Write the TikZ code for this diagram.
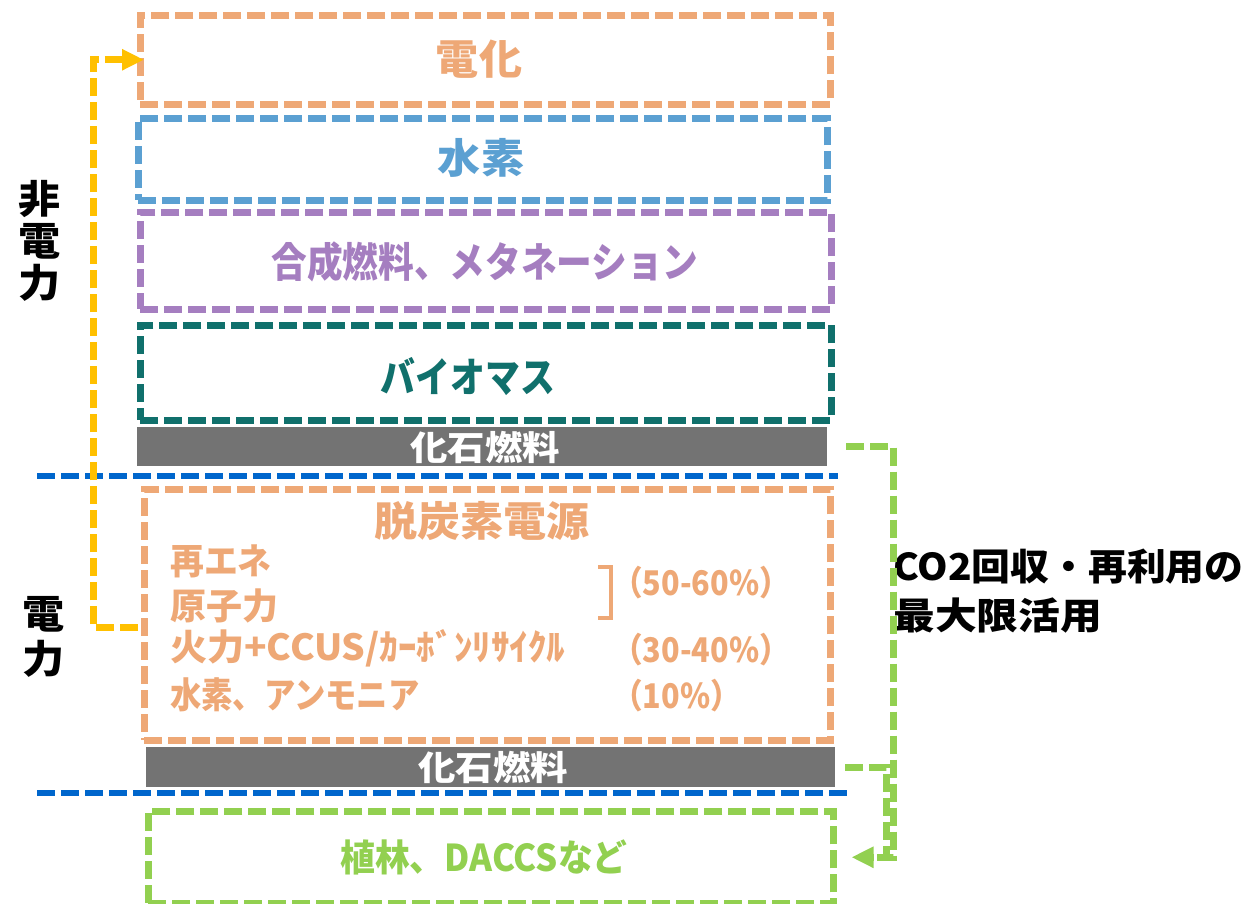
\documentclass[tikz,border=0pt]{standalone}
\usepackage{fontspec}
\usepackage{graphicx}
\setmainfont{Noto Sans CJK JP}
\usetikzlibrary{arrows.meta}
\definecolor{cOr}{RGB}{238,168,118}
\definecolor{cBl}{RGB}{91,160,210}
\definecolor{cPu}{RGB}{165,126,192}
\definecolor{cTe}{RGB}{16,112,108}
\definecolor{cGy}{RGB}{115,115,115}
\definecolor{cLn}{RGB}{0,102,204}
\definecolor{cYe}{RGB}{255,192,0}
\definecolor{cGr}{RGB}{146,208,80}
\newcommand{\sx}[2]{\scalebox{#1}[1]{#2}}
\newcommand{\fs}[1]{\fontsize{#1}{#1}\selectfont}
\begin{document}
\begin{tikzpicture}[x=1pt,y=-1pt,
  dpat/.style={dash pattern=on 18pt off 6pt},
  dbox/.style={dpat, line width=6.5pt, inner sep=0pt, anchor=north west},
  fbar/.style={fill=cGy, inner sep=0pt, anchor=north west},
  lbl/.style={inner sep=0pt, font=\bfseries},
  row/.style={lbl, anchor=west, text=cOr},
  sepline/.style={cLn, line width=6.5pt, dpat},
  conn/.style={line width=7pt, dpat},
]
\useasboundingbox (0,0) rectangle (1253,903);
\fill[white] (0,0) rectangle (1253,903);

% boxes
\node[dbox, draw=cOr, minimum width=690pt, minimum height=89pt] (den) at (137,12) {};
\node[dbox, draw=cBl, minimum width=689pt, minimum height=82pt] (sui) at (135,115) {};
\node[dbox, draw=cPu, minimum width=691pt, minimum height=97pt] (gou) at (137,209) {};
\node[dbox, draw=cTe, minimum width=691pt, minimum height=95pt] (bio) at (137,322) {};
\node[fbar, minimum width=690pt, minimum height=39pt] (fo1) at (137,427) {};
\node[dbox, draw=cOr, minimum width=686pt, minimum height=251pt] (dat) at (141,486) {};
\node[fbar, minimum width=689pt, minimum height=40pt] (fo2) at (146,747) {};
\node[dbox, draw=cGr, minimum width=685pt, minimum height=92pt] (grn) at (145,808) {};

% separator lines
\coordinate (l1a) at (37,476);
\coordinate (l1b) at (838,476);
\coordinate (l2a) at (37,793);
\coordinate (l2b) at (850,793);
\draw[sepline] (l1a) -- (l1b);
\draw[sepline] (l2a) -- (l2b);

% labels
\node[lbl, text=cOr] (tden) at (479,59) {\fs{41}\sx{1.05}{電化}};
\node[lbl, text=cBl] (tsui) at (481,158) {\fs{41}\sx{1.05}{水素}};
\node[lbl, text=cPu] (tgou) at (485,262) {\fs{41}\sx{0.87}{合成燃料、メタネーション}};
\node[lbl, text=cTe] (tbio) at (468,377) {\fs{41}\sx{0.85}{バイオマス}};
\node[lbl, text=white] (tfo1) at (485,447) {\fs{34}\sx{1.1}{化石燃料}};
\node[lbl, text=cOr] (tdat) at (482,521) {\fs{41}\sx{1.05}{脱炭素電源}};
\node[row] (r1) at (170,561) {\fs{36}\sx{0.94}{再エネ}};
\node[row] (r2) at (170,606) {\fs{36}原子力};
\node[row] (r3) at (170,648) {\fs{36}\sx{1.03}{火力+CCUS/ｶｰﾎﾞﾝﾘｻｲｸﾙ}};
\node[row] (r4) at (170,695) {\fs{36}\sx{0.87}{水素、アンモニア}};
\node[row] (p1) at (612,583) {\fs{34}\sx{0.9}{（50-60\%）}};
\node[row] (p2) at (612,650) {\fs{34}\sx{0.9}{（30-40\%）}};
\node[row] (p3) at (612,696) {\fs{34}\sx{0.9}{（10\%）}};
\node[lbl, text=white] (tfo2) at (493,767) {\fs{34}\sx{1.1}{化石燃料}};
\node[lbl, text=cGr] (tgrn) at (484,857) {\fs{37}\sx{0.94}{植林、DACCSなど}};
\node[lbl, align=center, font=\bfseries\fontsize{39}{42}\selectfont] (hi) at (40,241) {\sx{1.08}{非}\\\sx{1.08}{電}\\\sx{1.08}{力}};
\node[lbl, align=center, font=\bfseries\fontsize{39}{45}\selectfont] (de) at (44,637) {\sx{1.08}{電}\\\sx{1.08}{力}};
\node[lbl, align=left, anchor=west, font=\bfseries\fontsize{37}{49}\selectfont] (co) at (893,591) {\sx{1.05}{CO2回収・再利用の}\\\sx{1.13}{最大限活用}};

% bracket
\draw[cOr, line width=3.5pt] (598,567) -- (611,567) -- (611,618) -- (598,618);

% connectors
\coordinate (ys) at (138,627);
\draw[conn, cYe, -{Triangle[length=22pt,width=20pt]}] (ys) -- ++(-45,0) |- ([xshift=7pt]den.west);
\draw[conn, cGr] ([xshift=19pt]fo1.east) -| ([xshift=57pt]grn.east) -- ([xshift=40pt]grn.east);
\draw[conn, cGr, -{Triangle[length=22pt,width=20pt]}] ([xshift=10pt]fo2.east) -| ([xshift=50pt]grn.east) -- ([xshift=15pt]grn.east);
\end{tikzpicture}
\end{document}
